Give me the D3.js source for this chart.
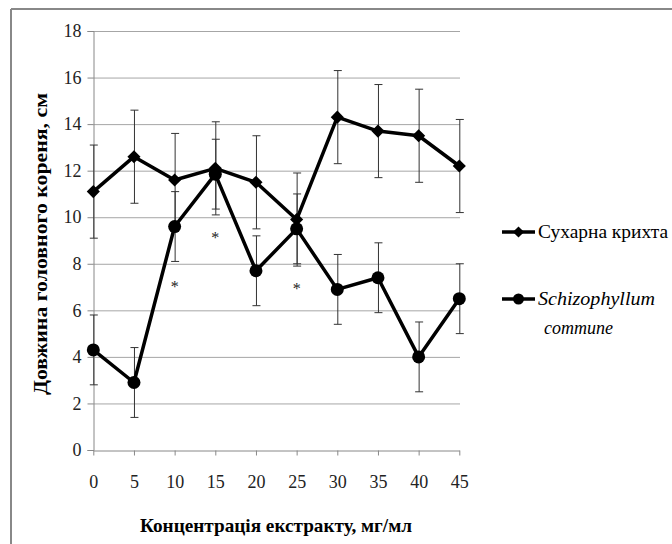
<!DOCTYPE html>
<html><head><meta charset="utf-8">
<script src="https://d3js.org/d3.v7.min.js"></script>
<style>body{margin:0;background:#fff}</style>
</head><body>
<script>
const categories = [0,5,10,15,20,25,30,35,40,45];
const seriesNames = ["Сухарна крихта", "Schizophyllum commune"];
const breadValues = [11.1,12.6,11.6,12.1,11.5,9.9,14.3,13.7,13.5,12.2];
const breadErrors = [2.0,2.0,2.0,2.0,2.0,2.0,2.0,2.0,2.0,2.0];
const fungusValues = [4.3,2.9,9.6,11.85,7.7,9.5,6.9,7.4,4.0,6.5];
const fungusErrors = [1.5,1.5,1.5,1.5,1.5,1.5,1.5,1.5,1.5,1.5];
const yTicks = [0,2,4,6,8,10,12,14,16,18];
const asterisks = [{cat:10, y:7.1},{cat:15, y:9.2},{cat:25, y:7.0}];

const W=672,H=544;
const font='"Liberation Serif"';
const svg=d3.select("body").append("svg").attr("width",W).attr("height",H);
svg.append("rect").attr("width",W).attr("height",H).attr("fill","#fff");
svg.append("line").attr("x1",11).attr("y1",9).attr("x2",W).attr("y2",9).attr("stroke","#888").attr("stroke-width",2);
svg.append("line").attr("x1",11).attr("y1",9).attr("x2",11).attr("y2",H).attr("stroke","#888").attr("stroke-width",2);

const x=d3.scalePoint().domain(categories).range([93.3,459.3]);
const y=d3.scaleLinear().domain([0,18]).range([450,31]);

svg.append("g").selectAll("line").data(yTicks.filter(d=>d>0)).join("line")
  .attr("x1",93.3).attr("x2",460).attr("y1",d=>y(d)+0.5).attr("y2",d=>y(d)+0.5)
  .attr("stroke","#a6a6a6").attr("stroke-width",1);

const yAxis=svg.append("g").attr("transform","translate(93.5,0)")
  .call(d3.axisLeft(y).tickValues(yTicks).tickSize(6).tickPadding(6).tickFormat(d3.format("d")));
yAxis.select(".domain").attr("stroke","#888");
yAxis.selectAll(".tick line").attr("stroke","#888");
yAxis.selectAll("text").style("font-family",font).style("font-size","18px").attr("fill","#222");

const xAxis=svg.append("g").attr("transform","translate(0,450.5)")
  .call(d3.axisBottom(x).tickSize(5).tickPadding(20).tickSizeOuter(0));
xAxis.select(".domain").attr("stroke","#888");
xAxis.selectAll(".tick line").attr("stroke","#888");
xAxis.selectAll("text").style("font-family",font).style("font-size","18px").attr("fill","#222");

function errBars(vals,errs){
  const g=svg.append("g").attr("stroke","#333").attr("stroke-width",1);
  categories.forEach((c,i)=>{
    const cx=x(c)+0.5, t=y(vals[i]+errs[i]), b=y(vals[i]-errs[i]);
    g.append("line").attr("x1",cx).attr("x2",cx).attr("y1",t).attr("y2",b);
    g.append("line").attr("x1",cx-4).attr("x2",cx+4).attr("y1",t).attr("y2",t);
    g.append("line").attr("x1",cx-4).attr("x2",cx+4).attr("y1",b).attr("y2",b);
  });
}
errBars(breadValues,breadErrors);
errBars(fungusValues,fungusErrors);

const line=d3.line().x((d,i)=>x(categories[i])).y(d=>y(d));
svg.append("path").datum(breadValues).attr("d",line).attr("fill","none").attr("stroke","#000").attr("stroke-width",3.5).attr("stroke-linejoin","round");
svg.append("path").datum(fungusValues).attr("d",line).attr("fill","none").attr("stroke","#000").attr("stroke-width",3.5).attr("stroke-linejoin","round");

const diamond=d3.symbol().type(d3.symbolDiamond2).size(110);
svg.append("g").selectAll("path").data(breadValues).join("path")
  .attr("d",diamond).attr("transform",(d,i)=>`translate(${x(categories[i])},${y(d)})`).attr("fill","#000");
svg.append("g").selectAll("circle").data(fungusValues).join("circle")
  .attr("cx",(d,i)=>x(categories[i])).attr("cy",d=>y(d)).attr("r",6.5).attr("fill","#000");

svg.append("g").selectAll("text").data(asterisks).join("text")
  .attr("x",d=>x(d.cat)).attr("y",d=>y(d.y)+7).attr("text-anchor","middle")
  .style("font-family",font).style("font-size","16px").attr("fill","#222").text("*");

svg.append("text").attr("transform","translate(47,244) rotate(-90)").attr("text-anchor","middle")
  .style("font-family",font).style("font-weight","bold").style("font-size","18px").attr("fill","#000")
  .attr("textLength",302).attr("lengthAdjust","spacingAndGlyphs")
  .text("Довжина головного кореня, см");
svg.append("text").attr("x",276).attr("y",532).attr("text-anchor","middle")
  .style("font-family",font).style("font-weight","bold").style("font-size","19px").attr("fill","#000")
  .attr("textLength",272).attr("lengthAdjust","spacingAndGlyphs")
  .text("Концентрація екстракту, мг/мл");

const lg=svg.append("g");
lg.append("line").attr("x1",502).attr("x2",535).attr("y1",232).attr("y2",232).attr("stroke","#000").attr("stroke-width",3.5);
lg.append("path").attr("d",d3.symbol().type(d3.symbolDiamond2).size(80)).attr("transform","translate(518.5,232)");
lg.append("text").attr("x",538).attr("y",238).style("font-family",font).style("font-size","18px").attr("fill","#000")
  .attr("textLength",130).attr("lengthAdjust","spacingAndGlyphs").text(seriesNames[0]);
lg.append("line").attr("x1",502).attr("x2",535).attr("y1",299).attr("y2",299).attr("stroke","#000").attr("stroke-width",3.5);
lg.append("circle").attr("cx",518.5).attr("cy",299).attr("r",5.5);
lg.append("text").attr("x",538).attr("y",305).style("font-family",font).style("font-style","italic").style("font-size","18px").attr("fill","#000")
  .attr("textLength",117).attr("lengthAdjust","spacingAndGlyphs").text("Schizophyllum");
lg.append("text").attr("x",544).attr("y",334).style("font-family",font).style("font-style","italic").style("font-size","18px").attr("fill","#000")
  .attr("textLength",69).attr("lengthAdjust","spacingAndGlyphs").text("commune");
</script>
</body></html>
